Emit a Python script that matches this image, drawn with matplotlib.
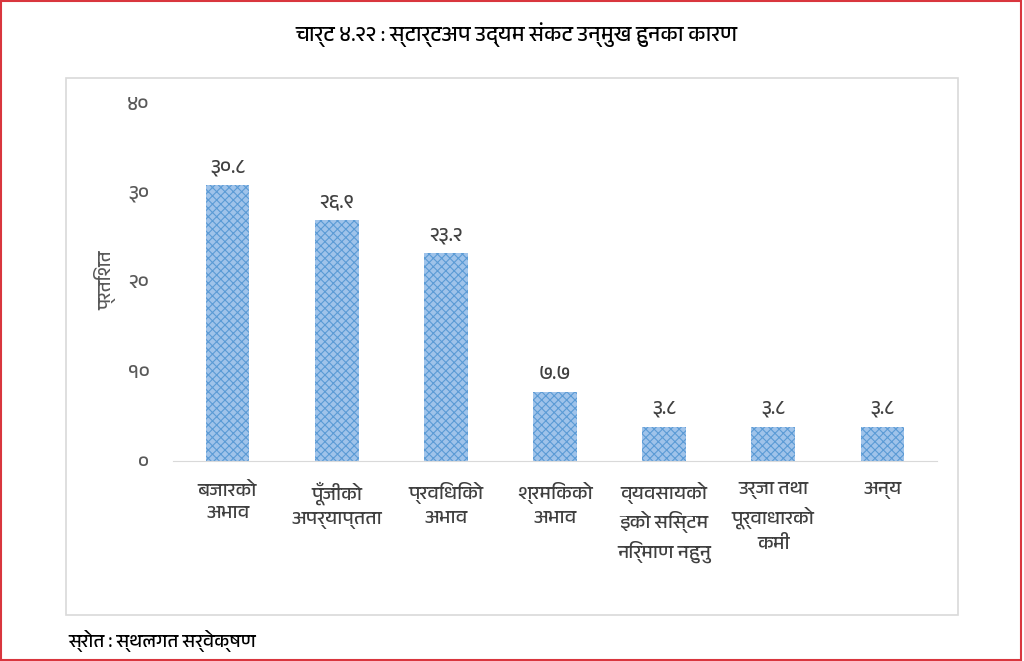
import matplotlib
matplotlib.use("Agg")
import matplotlib.pyplot as plt
from matplotlib import font_manager
from matplotlib.patches import Rectangle
from matplotlib.ft2font import FT2Font

# ---- data ----
categories = [
    "बजारको\nअभाव",
    "पूँजीको\nअपर्याप्तता",
    "प्रविधिको\nअभाव",
    "श्रमिकको\nअभाव",
    "व्यवसायको\nइको सिस्टम\nनिर्माण नहुनु",
    "उर्जा तथा\nपूर्वाधारको\nकमी",
    "अन्य",
]
values = [30.8, 26.9, 23.2, 7.7, 3.8, 3.8, 3.8]
value_labels = ["३०.८", "२६.९", "२३.२", "७.७", "३.८", "३.८", "३.८"]
yticks = [0, 10, 20, 30, 40]
ytick_labels = ["०", "१०", "२०", "३०", "४०"]
title = "चार्ट ४.२२ : स्टार्टअप उद्यम संकट उन्मुख हुनका कारण"
ylabel = "प्रतिशत"
source = "स्रोत : स्थलगत सर्वेक्षण"

# ---- find a font with Devanagari glyphs ----
deva = []
seen = set()
for fe in font_manager.fontManager.ttflist:
    if fe.name in seen:
        continue
    try:
        cmap = FT2Font(fe.fname).get_charmap()
        if 0x0915 in cmap and 0x0966 in cmap:
            deva.append(fe.name)
            seen.add(fe.name)
    except Exception:
        pass
pref = [n for n in deva if "Devanagari" in n] + [n for n in deva if "Devanagari" not in n]
families = pref[:2] + ["DejaVu Sans"]
plt.rcParams["font.family"] = families
plt.rcParams["hatch.linewidth"] = 0.8

fig = plt.figure(figsize=(10.24, 6.61), dpi=100)

# outer red frame
fig.patches.append(Rectangle((0.001, 0.002), 0.996, 0.996, transform=fig.transFigure,
                             fill=False, edgecolor="#d9363e", linewidth=1.5))
# chart box
fig.patches.append(Rectangle((66 / 1024, 1 - 615 / 661), (958 - 66) / 1024, (615 - 78) / 661,
                             transform=fig.transFigure, fill=False,
                             edgecolor="#d9d9d9", linewidth=1.2))

ax = fig.add_axes([173 / 1024, 1 - 461 / 661, (937 - 173) / 1024, (461 - 103) / 661])
x = list(range(len(values)))
bars = ax.bar(x, values, width=0.40, color="#9fc3ea", edgecolor="#5b9bd5",
              linewidth=0, hatch="xxxx")

ax.set_xlim(-0.5, len(values) - 0.5)
ax.set_ylim(0, 40)
ax.set_yticks(yticks)
ax.set_yticklabels(ytick_labels)
ax.set_xticks(x)
ax.set_xticklabels(categories, fontsize=14, color="#404040", linespacing=1.45)
for s in ["top", "right", "left"]:
    ax.spines[s].set_visible(False)
ax.spines["bottom"].set_color("#d9d9d9")
ax.tick_params(axis="both", length=0)
ax.tick_params(axis="y", labelsize=14.5, labelcolor="#595959", pad=17)
ax.tick_params(axis="x", pad=15)
for lbl in ax.get_xticklabels():
    lbl.set_verticalalignment("top")

for xi, v, t in zip(x, values, value_labels):
    ax.annotate(t, (xi, v), xytext=(0, 7), textcoords="offset points",
                ha="center", va="bottom", fontsize=14.5, color="#404040")

fig.text(105 / 1024, 1 - 280 / 661, ylabel, rotation=90, ha="center", va="center",
         fontsize=13.5, color="#595959")
fig.text(517 / 1024, 1 - 35 / 661, title, ha="center", va="center",
         fontsize=15.5, fontweight="bold", color="#000000")
fig.text(68 / 1024, 1 - 641 / 661, source, ha="left", va="center",
         fontsize=13.5, style="italic", color="#000000")

fig.savefig("out.png", dpi=100)
